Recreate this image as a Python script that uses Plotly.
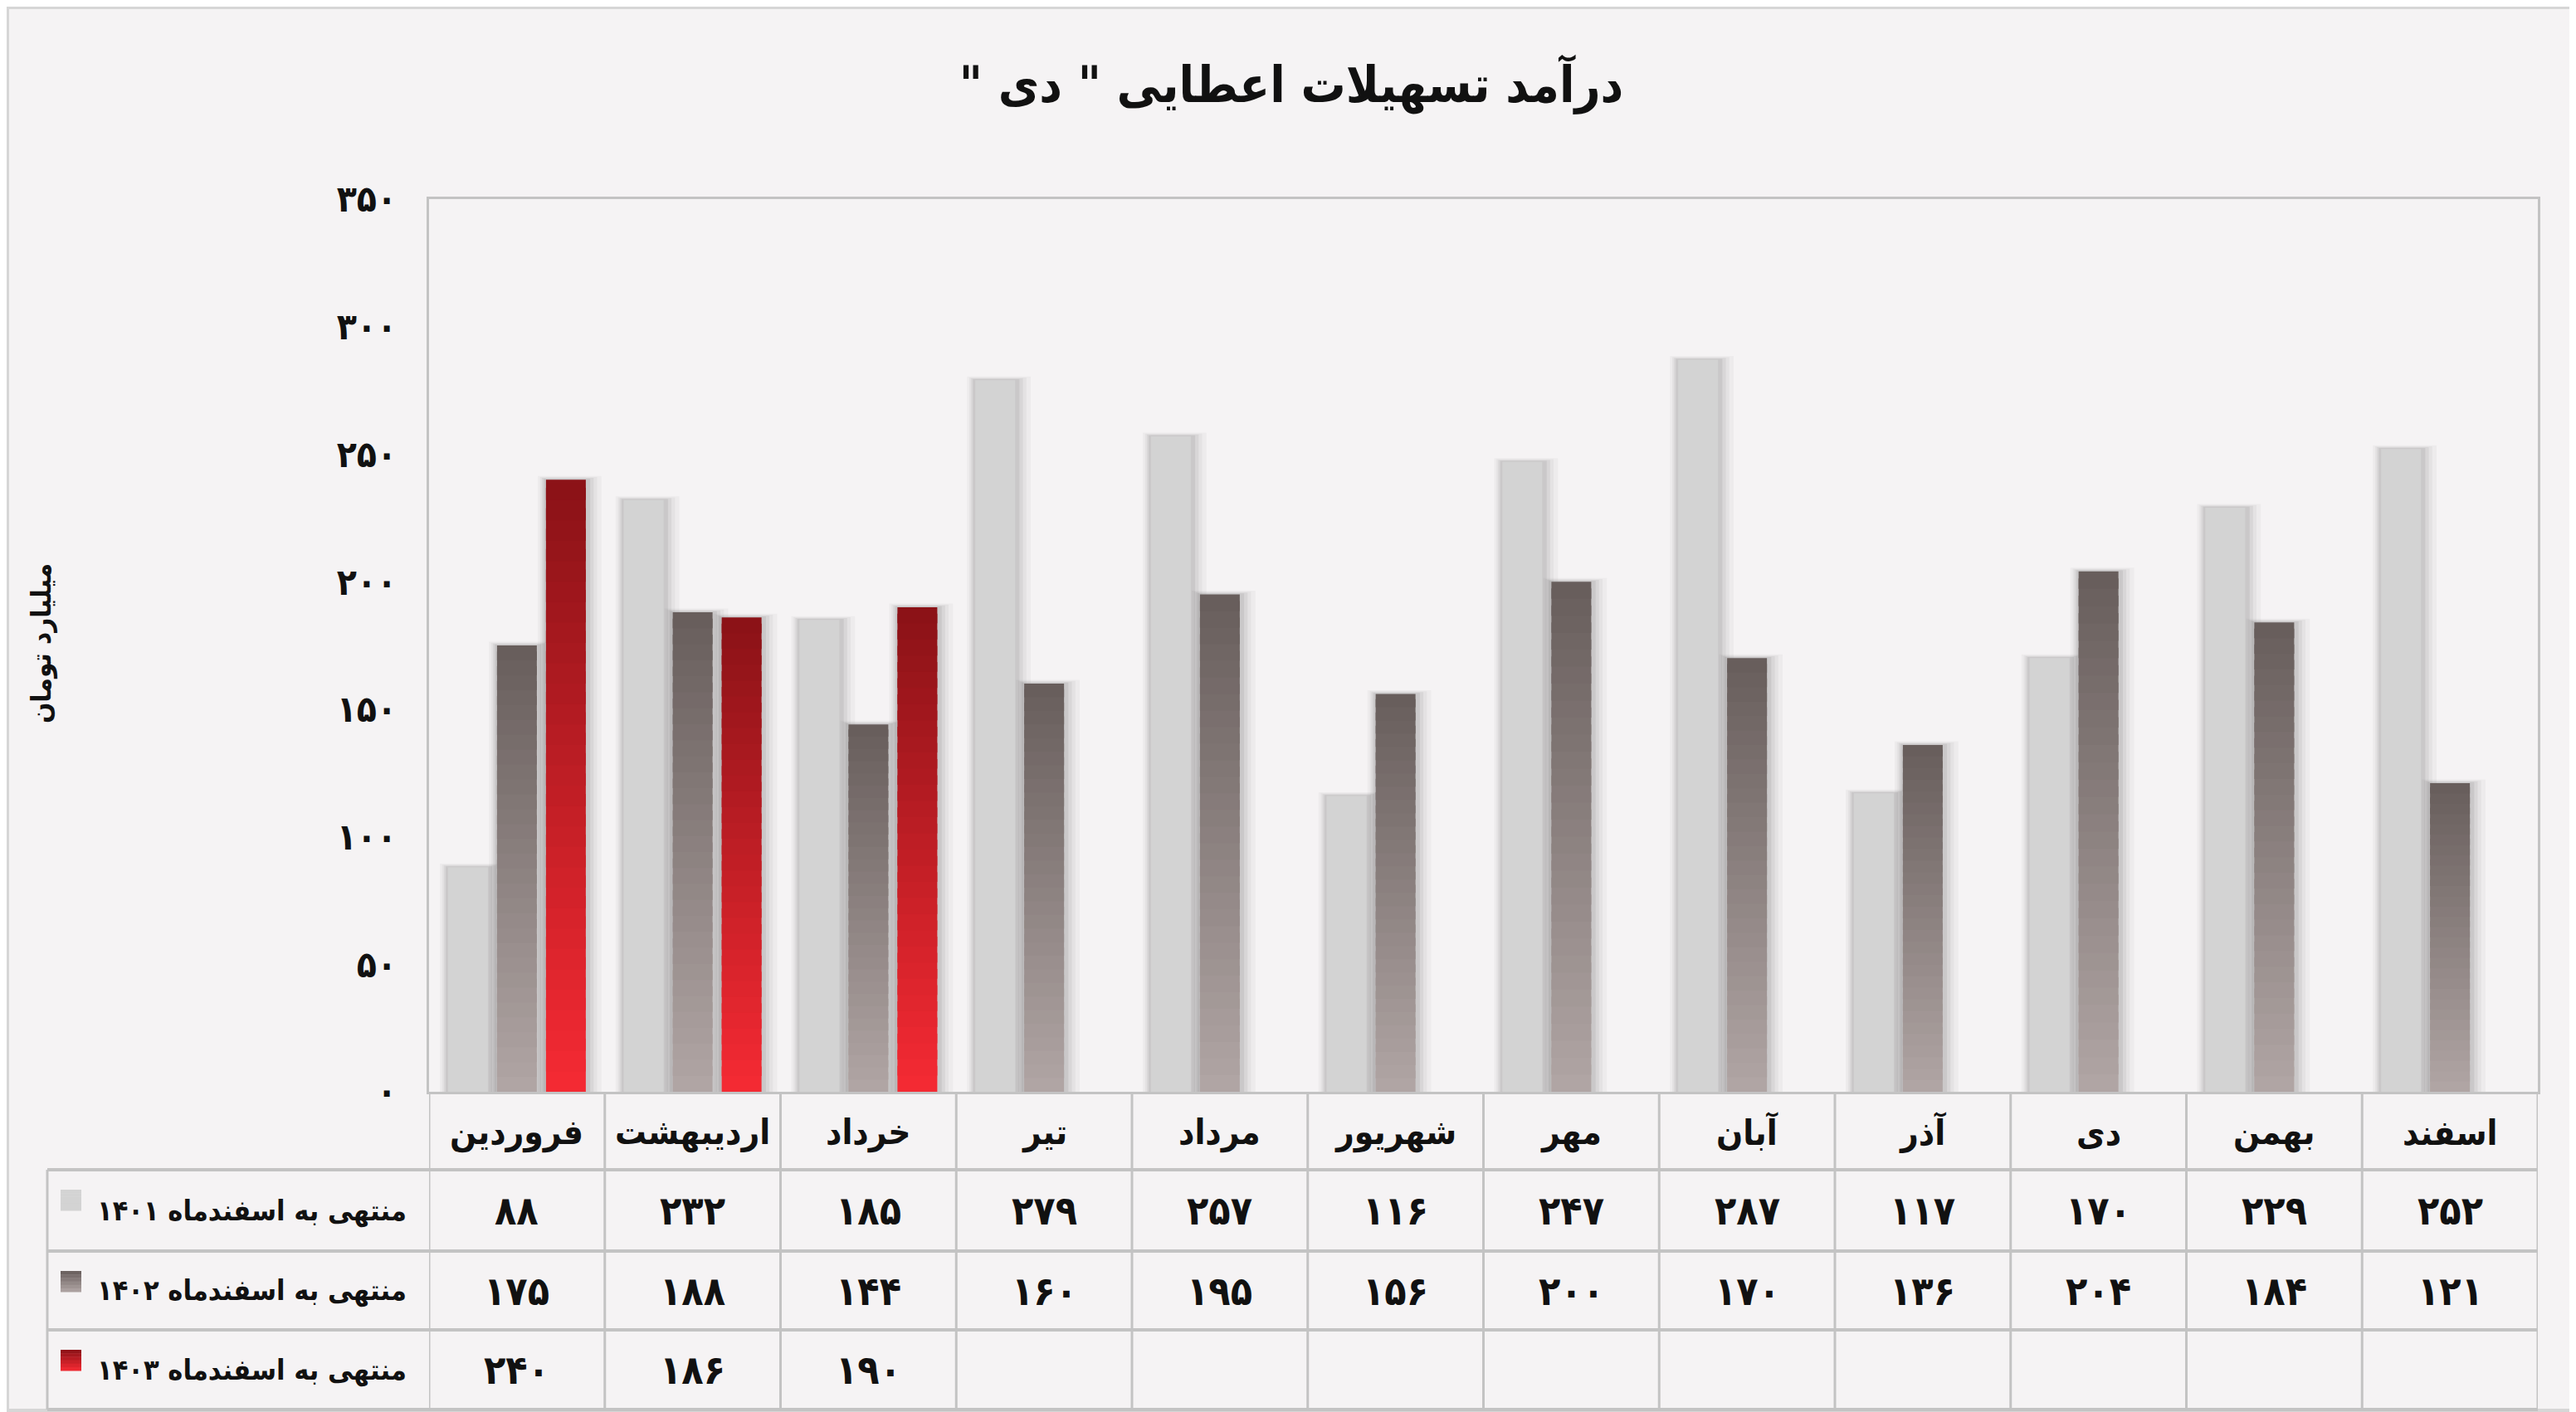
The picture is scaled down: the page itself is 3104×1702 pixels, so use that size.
import plotly.graph_objects as go

# ---------------- data ----------------
months = ['فروردین', 'اردیبهشت', 'خرداد', 'تیر', 'مرداد', 'شهریور',
          'مهر', 'آبان', 'آذر', 'دی', 'بهمن', 'اسفند']
v1401 = [88, 232, 185, 279, 257, 116, 247, 287, 117, 170, 229, 252]
v1402 = [175, 188, 144, 160, 195, 156, 200, 170, 136, 204, 184, 121]
v1403 = [240, 186, 190, None, None, None, None, None, None, None, None, None]
series_names = ['منتهی به اسفندماه ۱۴۰۱', 'منتهی به اسفندماه ۱۴۰۲', 'منتهی به اسفندماه ۱۴۰۳']
y_ticks = [0, 50, 100, 150, 200, 250, 300, 350]
title_text = '\u200fدرآمد تسهیلات اعطایی " دی "\u200f'
y_title = 'میلیارد تومان'

# ---------------- styling ----------------
W, H = 3104, 1702
OFF = 8                                         # page body offset compensation
FONT = 'DejaVu Sans Condensed, DejaVu Sans, sans-serif'
BG = '#f5f3f4'
GRID = '#c3c3c3'
# (bottom colour, top colour) for each series gradient
grads = [('#d3d3d3', '#d3d3d3'), ('#b1a6a5', '#675d5b'), ('#f52a33', '#8a1217')]

PL, PR, PT, PB = 517, 3058, 240, 1316          # plot area in px (screen coords)
ROWS = [1410, 1508, 1603, 1699]                 # table horizontal lines
TABLE_LEFT = 57
CAT_PX = (PR - PL) / 12.0
BAR_W = 48 / CAT_PX                             # bar width (category units)
SLOT = 59 / CAT_PX                              # centre-to-centre distance of bars


def px(x):
    return (x - OFF) / W


def py(y):
    return 1 - (y - OFF) / H


def fa(n):
    return str(n).translate(str.maketrans('0123456789', '۰۱۲۳۴۵۶۷۸۹'))


def hex2rgb(h):
    h = h.lstrip('#')
    return tuple(int(h[i:i + 2], 16) for i in (0, 2, 4))


def mix(c0, c1, t):
    a, b = hex2rgb(c0), hex2rgb(c1)
    return 'rgb(%d,%d,%d)' % tuple(round(a[i] + (b[i] - a[i]) * t) for i in range(3))


fig = go.Figure()
all_series = [v1401, v1402, v1403]

# soft shadows behind bars
for pad_px, alpha in [(18, 0.035), (13, 0.045), (9, 0.06), (5, 0.08)]:
    pad = pad_px / CAT_PX
    for si, vals in enumerate(all_series):
        heights = [None if v is None else v + pad_px * 350 / (PB - PT) * 0.25 for v in vals]
        fig.add_trace(go.Bar(
            x=months, y=heights,
            offset=(si - 1) * SLOT - BAR_W / 2 - pad * 0.55, width=BAR_W + pad * 1.6,
            marker=dict(color='rgba(40,40,40,%.3f)' % alpha, line=dict(width=0)),
            showlegend=False, hoverinfo='skip',
        ))

# gradient bars built from stacked slices of each value
NSEG = 30
for si, vals in enumerate(all_series):
    c_bot, c_top = grads[si]
    nseg = 1 if c_bot == c_top else NSEG
    for k in range(nseg):
        bases, heights = [], []
        for v in vals:
            if v is None:
                bases.append(None)
                heights.append(None)
            else:
                b = v * k / nseg
                top = v * (k + 1) / nseg
                if k < nseg - 1:
                    top = min(v, top + v / nseg * 0.6)
                bases.append(b)
                heights.append(top - b)
        fig.add_trace(go.Bar(
            x=months, y=heights, base=bases,
            offset=(si - 1) * SLOT - BAR_W / 2, width=BAR_W,
            marker=dict(color=mix(c_bot, c_top, (k + 0.5) / nseg), line=dict(width=0)),
            showlegend=False, hoverinfo='skip',
        ))

fig.update_layout(
    width=W, height=H,
    margin=dict(l=0, r=0, t=0, b=0, autoexpand=False),
    paper_bgcolor=BG, plot_bgcolor=BG,
    barmode='overlay',
    font=dict(family=FONT, color='#111111'),
    title=dict(text=title_text, x=px(W / 2 + OFF / 2), xanchor='center', y=py(102),
               yanchor='middle', automargin=False,
               font=dict(family=FONT, size=60, weight='bold', color='#111111')),
    xaxis=dict(domain=[px(PL), px(PR)], range=[-0.5, 11.5], showticklabels=False,
               automargin=False,
               showgrid=False, zeroline=False, showline=True, mirror=True,
               linecolor=GRID, linewidth=3, ticks=''),
    yaxis=dict(domain=[py(PB), py(PT)], range=[0, 350], tickvals=y_ticks,
               automargin=False,
               ticktext=[fa(t) for t in y_ticks], showgrid=False, zeroline=False,
               showline=True, mirror=True, linecolor=GRID, linewidth=3, ticks='',
               ticklabelstandoff=27,
               tickfont=dict(family=FONT, size=44, weight='bold', color='#111111')),
)

shapes = []
annotations = []

# outer border
shapes.append(dict(type='rect', xref='paper', yref='paper', x0=px(OFF + 1), x1=px(W - 2),
                   y0=py(H - 2), y1=py(OFF + 1), line=dict(color='#d6d6d6', width=4)))

# table horizontal lines
for yy in ROWS:
    shapes.append(dict(type='line', xref='paper', yref='paper', x0=px(TABLE_LEFT), x1=px(PR),
                       y0=py(yy), y1=py(yy), line=dict(color=GRID, width=4)))
# table vertical lines (category boundaries)
for i in range(len(months) + 1):
    shapes.append(dict(type='line', xref='x', yref='paper', x0=i - 0.5, x1=i - 0.5,
                       y0=py(PB), y1=py(ROWS[-1]), line=dict(color=GRID, width=3)))
shapes.append(dict(type='line', xref='paper', yref='paper', x0=px(TABLE_LEFT), x1=px(TABLE_LEFT),
                   y0=py(ROWS[0]), y1=py(ROWS[-1]), line=dict(color=GRID, width=3)))

# month header
for m in months:
    annotations.append(dict(x=m, y=py((PB + ROWS[0]) / 2 + 2), xref='x', yref='paper',
                            text=m, showarrow=False, xanchor='center', yanchor='middle',
                            font=dict(family=FONT, size=42, weight='bold', color='#111111')))

row_tops = [ROWS[0], ROWS[1], ROWS[2]]
row_bots = [ROWS[1], ROWS[2], ROWS[3]]
for si, vals in enumerate(all_series):
    cy = (row_tops[si] + row_bots[si]) / 2
    for m, v in zip(months, vals):
        if v is None:
            continue
        annotations.append(dict(x=m, y=py(cy), xref='x', yref='paper', text=fa(v),
                                showarrow=False, xanchor='center', yanchor='middle',
                                font=dict(family=FONT, size=48, weight='bold', color='#111111')))
    # row label
    annotations.append(dict(x=px(492), y=py(cy), xref='paper', yref='paper',
                            text=series_names[si], showarrow=False, xanchor='right',
                            yanchor='middle',
                            font=dict(family=FONT, size=34, weight='bold', color='#111111')))
    # legend swatch with gradient
    sw_top = row_tops[si] + 24
    c_bot, c_top = grads[si]
    nsl = 6
    for k in range(nsl):
        y0 = sw_top + 25 * k / nsl
        y1 = sw_top + 25 * (k + 1) / nsl
        shapes.append(dict(type='rect', xref='paper', yref='paper', x0=px(73), x1=px(98),
                           y0=py(y1 + 0.5), y1=py(y0), line=dict(width=0),
                           fillcolor=mix(c_top, c_bot, (k + 0.5) / nsl)))

# y-axis title
annotations.append(dict(x=px(50), y=py(776), xref='paper', yref='paper', text=y_title,
                        textangle=-90, showarrow=False, xanchor='center', yanchor='middle',
                        font=dict(family=FONT, size=33, weight='bold', color='#111111')))

fig.update_layout(shapes=shapes, annotations=annotations)
fig.write_html('out.html')
